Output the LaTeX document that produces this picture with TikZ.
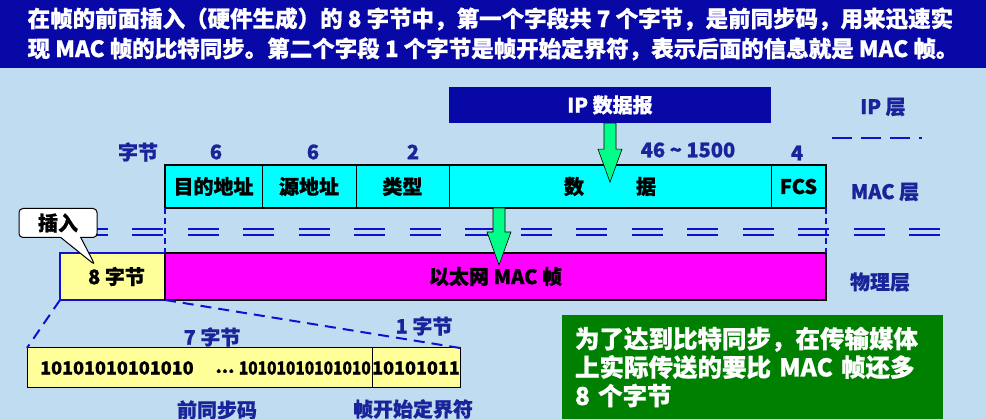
\documentclass[tikz,border=0pt]{standalone}
\usepackage{fontspec}
\setmainfont{Noto Sans CJK SC}[BoldFeatures={FakeBold=0.8}]
\usepackage{graphicx}
\usepackage{tikz}
\usetikzlibrary{shapes.callouts,positioning,calc}
\definecolor{BgBlue}{HTML}{C0DCF0}
\definecolor{HeadBlue}{HTML}{0808A6}
\definecolor{LabelBlue}{HTML}{1A2399}
\definecolor{LineBlue}{HTML}{1010D0}
\definecolor{FieldCyan}{HTML}{00FFFF}
\definecolor{FrameMagenta}{HTML}{FF00FF}
\definecolor{PaleYellow}{HTML}{FFFF99}
\definecolor{ArrowGreen}{HTML}{00FF88}
\definecolor{NoteGreen}{HTML}{008000}

\begin{document}
\begin{tikzpicture}[x=1pt, y=-1pt,
    headbar/.style={fill=HeadBlue, text=white, minimum width=986, minimum height=68, inner sep=0pt, align=left, font=\fontsize{22.5}{30}\selectfont\bfseries},
    field/.style={draw=black, line width=1pt, fill=FieldCyan, minimum height=43, inner sep=0pt, outer sep=0pt, font=\fontsize{20}{24}\selectfont\bfseries},
    ipbox/.style={fill=HeadBlue, text=white, minimum width=322, minimum height=36, inner sep=0pt, font=\fontsize{20}{24}\selectfont\bfseries},
    num/.style={text=LabelBlue, inner sep=1pt, font=\fontsize{20}{24}\selectfont\bfseries},
    layer/.style={text=LabelBlue, inner sep=1pt, font=\fontsize{20}{24}\selectfont\bfseries},
    prebox/.style={draw=LineBlue, line width=2pt, fill=PaleYellow, minimum width=105, minimum height=47, inner sep=0pt, outer sep=0pt, font=\fontsize{20}{24}\selectfont\bfseries},
    framebox/.style={draw=black, line width=2pt, fill=FrameMagenta, minimum height=47, inner sep=0pt, outer sep=0pt, font=\fontsize{20}{24}\selectfont\bfseries},
    bitbox/.style={draw=black, line width=1pt, fill=PaleYellow, minimum height=40, inner sep=0pt, outer sep=0pt, font=\fontsize{18}{22}\selectfont\bfseries},
    bits/.style={inner sep=0pt, font=\fontsize{18}{22}\selectfont\bfseries},
    garrow/.style={draw=black, line width=0.6pt, fill=ArrowGreen},
    sepline/.style={draw=LineBlue, line width=2.5pt, dash pattern=on 31pt off 24.5pt},
    edgeline/.style={draw=LineBlue, line width=1.5pt, dash pattern=on 6pt off 4pt},
    zoomline/.style={draw=LineBlue, line width=2pt, dash pattern=on 11pt off 7pt},
    callbox/.style={rectangle callout, draw=black, line width=1pt, fill=white, rounded corners=4pt, minimum width=78, minimum height=29, inner sep=0pt, callout pointer width=20pt, font=\fontsize{20}{24}\selectfont\bfseries},
    note/.style={fill=NoteGreen, text=white, minimum width=381, minimum height=104, text width=355, align=left, font=\fontsize{24.5}{28.5}\selectfont\bfseries}
]
    \useasboundingbox (0,0) rectangle (986,419);
    \fill[BgBlue] (0,0) rectangle (986,419);

    % header text
    \node[headbar] (title) at (493,34) {在帧的前面插入（硬件生成）的 8 字节中，第一个字段共 7 个字节，是前同步码，用来迅速实\\现 MAC 帧的比特同步。第二个字段 1 个字节是帧开始定界符，表示后面的信息就是 MAC 帧。};

    % IP layer
    \node[ipbox] (ip) at (610,105) {IP 数据报};
    \node[layer] (iplayer) at (883,107) {IP 层};
    \draw[LineBlue, line width=2pt, dash pattern=on 20pt off 9pt] (832,138) -- (922,138);

    % MAC frame
    \node[num] (unit) at (138,152) {字节};
    \node[field, minimum width=97] (dst) at (213.5,186.5) {目的地址};
    \node[field, minimum width=94, right=0pt of dst] (src) {源地址};
    \node[field, minimum width=93, right=0pt of src] (type) {类型};
    \node[field, minimum width=322, right=0pt of type] (data) {数\hspace{2.6em}据};
    \node[field, minimum width=55, right=0pt of data] (fcs) {FCS};
    \draw[line width=2pt] (dst.north west) rectangle (fcs.south east);
    \node[num] at (216,152) {6};
    \node[num] at (313,152) {6};
    \node[num] at (413,152) {2};
    \node[num] at (688,150) {46 \textasciitilde{} 1500};
    \node[num] at (797,153) {4};
    \node[layer] (maclayer) at (885,192) {MAC 层};

    % layer boundary
    \draw[sepline] (21,229) -- (941,229);
    \draw[sepline] (21,235) -- (941,235);

    % physical layer
    \node[prebox] (pre) at (112.5,276.5) {\hspace{8pt}8 字节};
    \node[framebox, minimum width=661, right=0pt of pre] (frame) {以太网 MAC 帧};
    \node[layer] (phylayer) at (880,282) {物理层};
    \draw[edgeline] (dst.south west) -- (frame.north west);
    \draw[edgeline] (fcs.south east) -- (frame.north east);

    % arrows down
    \draw[garrow] ($(ip.south)+(-6,0)$) -- ++(0,26) -- ++(-6,0) -- ($(ip.south)+(0,59)$) -- ++(12,-33) -- ++(-6,0) -- ($(ip.south)+(6,0)$) -- cycle;
    \draw[garrow] ($(data.south west)+(44,0)$) -- ++(0,24) -- ++(-6,0) -- ($(data.south west)+(50,57)$) -- ++(12,-33) -- ++(-6,0) -- ($(data.south west)+(56,0)$) -- cycle;

    \node[callbox, callout absolute pointer={($(pre.north west)+(35,12)$)}] (ins) at (58,223) {插入};

    % preamble + SFD
    \node[bitbox, minimum width=345] (bits) at (199.5,368) {};
    \node[bitbox, minimum width=88, right=0pt of bits] (sfd) {10101011};
    \node[bits, anchor=west] (b1) at ($(bits.west)+(13,0)$) {10101010101010};
    \node[bits] (dots) at (225,371) {...};
    \node[bits, anchor=east] (b2) at ($(bits.east)+(-1,0)$) {\scalebox{0.86}[1]{10101010101010}};
    \draw[zoomline] (pre.south west) -- (bits.north west);
    \draw[zoomline] (pre.south east) -- (sfd.north east);
    \node[num] at (212,337) {7 字节};
    \node[num] at (424,326) {1 字节};
    \node[num] at (217,410) {前同步码};
    \node[num] at (413,409) {帧开始定界符};

    \node[note] (msg) at (752.5,367) {为了达到比特同步，在传输媒体\\上实际传送的要比 MAC 帧还多\\8 个字节};
\end{tikzpicture}
\end{document}
